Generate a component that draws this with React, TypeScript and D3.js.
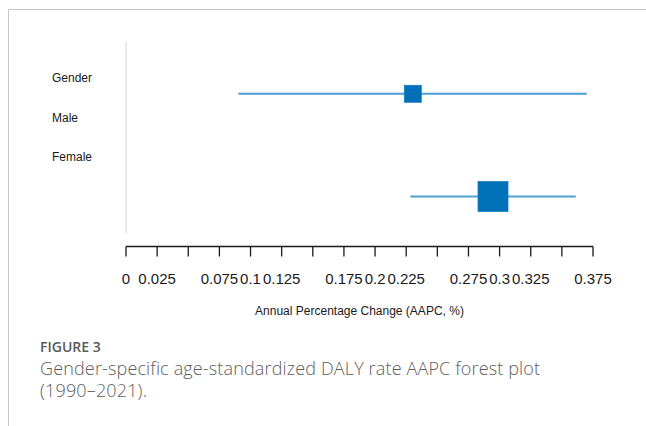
import React from "react";
import * as d3 from "d3";

const rowLabels = ["Gender", "Male", "Female"];
const seriesNames = ["Male", "Female"];
const estimates = [0.2303, 0.2947];
const lowers = [0.0902, 0.2283];
const uppers = [0.370, 0.3611];
const weights = [17, 30];
const plotRows = [0.4, 3.0];
const tickValues = [0, 0.025, 0.05, 0.075, 0.1, 0.125, 0.15, 0.175, 0.2, 0.225, 0.25, 0.275, 0.3, 0.325, 0.35, 0.375];
const tickLabels = ["0", "0.025", "", "0.075", "0.1", "0.125", "", "0.175", "0.2", "0.225", "", "0.275", "0.3", "0.325", "", "0.375"];
const axisTitle = "Annual Percentage Change (AAPC, %)";
const figLabel = "FIGURE 3";
const captionLines = ["Gender-specific age-standardized DALY rate AAPC forest plot", "(1990\u20132021)."];

export default function App() {
  const W = 646, H = 426;
  const x = d3.scaleLinear().domain([0, 0.375]).range([126, 593]);
  const y = d3.scaleLinear().domain([0, 1]).range([78, 117.5]);
  const axisY = 246.5;
  const arial = "'Liberation Sans', Arial, sans-serif";
  return (
    <svg width={W} height={H} style={{ position: "absolute", left: 0, top: 0, background: "#fff" }}>
      <line x1={8.5} y1={9.5} x2={W} y2={9.5} stroke="#c8c8c8" strokeWidth={1} />
      <line x1={8.5} y1={9.5} x2={8.5} y2={H} stroke="#c8c8c8" strokeWidth={1} />
      <line x1={x(0)} y1={42} x2={x(0)} y2={233} stroke="#e0e0e0" strokeWidth={1.5} />
      {rowLabels.map((r, i) => (
        <text key={r} x={52} y={y(i)} dy="0.35em" fontFamily={arial} fontSize={12} fill="#1a1a1a">{r}</text>
      ))}
      {seriesNames.map((s, i) => {
        const cy = y(plotRows[i]);
        const sz = weights[i];
        return (
          <g key={s}>
            <line x1={x(lowers[i])} x2={x(uppers[i])} y1={cy} y2={cy} stroke="#4d9fd6" strokeWidth={2} />
            <rect x={x(estimates[i]) - sz / 2} y={cy - sz / 2} width={sz} height={sz} fill="#0070b9" stroke="#1a7cc0" strokeWidth={0.8} />
          </g>
        );
      })}
      <line x1={x(0)} x2={x(0.375)} y1={axisY} y2={axisY} stroke="#1a1a1a" strokeWidth={1.3} />
      {tickValues.map((t, i) => (
        <g key={t}>
          <line x1={x(t)} x2={x(t)} y1={axisY} y2={axisY + 10} stroke="#1a1a1a" strokeWidth={1.3} />
          <text x={x(t)} y={278.5} dy="0.35em" textAnchor="middle" fontFamily={arial} fontSize={15} fill="#1a1a1a">{tickLabels[i]}</text>
        </g>
      ))}
      <text x={(x(0) + x(0.375)) / 2} y={311} dy="0.35em" textAnchor="middle" fontFamily={arial} fontSize={12} fill="#1a1a1a">{axisTitle}</text>
      <text x={40} y={352} fontFamily="'Open Sans', sans-serif" fontSize={14} fontWeight={600} fill="#5a5a5a">{figLabel}</text>
      {captionLines.map((c, i) => (
        <text key={i} x={40} y={375 + i * 22} fontFamily="'Open Sans', sans-serif" fontSize={18} fontWeight={300} letterSpacing={0.15} fill="#606060">{c}</text>
      ))}
    </svg>
  );
}
